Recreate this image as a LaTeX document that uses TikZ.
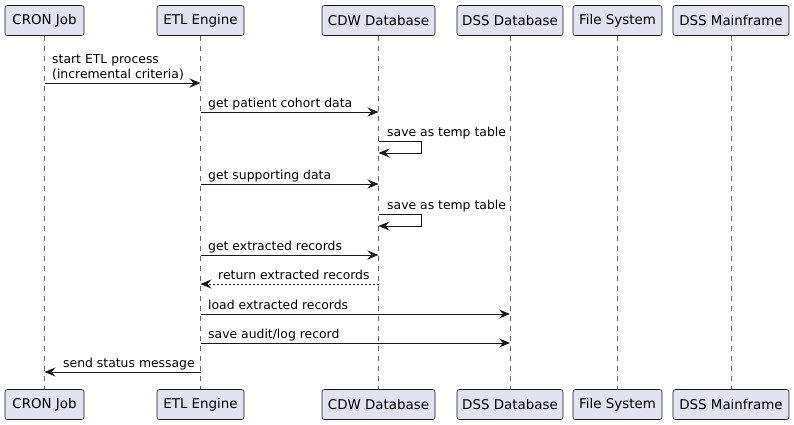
\documentclass[tikz,border=0pt]{standalone}
\usepackage{fontspec}
\setmainfont{DejaVu Sans}
\usetikzlibrary{arrows.meta}
\definecolor{boxline}{RGB}{24,24,24}
\definecolor{boxfill}{RGB}{226,226,240}
\definecolor{lifegray}{RGB}{100,100,100}

\begin{document}
\begin{tikzpicture}[x=1pt,y=-1pt,
    participant/.style={draw=boxline, line width=0.6pt, fill=boxfill, rounded corners=2.5pt, minimum height=30pt, inner sep=0pt, font=\fontsize{13.4}{15}\selectfont},
    lifeline/.style={draw=lifegray, line width=0.5pt, dash pattern=on 5pt off 5pt},
    msg/.style={draw=boxline, line width=0.9pt, -{Stealth[length=11pt,width=9pt,inset=4pt]}},
    reply/.style={msg, dash pattern=on 2pt off 2pt},
    lbl/.style={inner sep=0pt, font=\fontsize{12.4}{15}\selectfont}]
    \useasboundingbox (0,0) rectangle (794,425);
    % participants, top row
    \node[participant, minimum width=79pt] (cronTop) at (44.5,20.5) {CRON Job};
    \node[participant, minimum width=87pt] (etlTop) at (200.5,20.5) {ETL Engine};
    \node[participant, minimum width=113pt] (cdwTop) at (378.5,20.5) {CDW Database};
    \node[participant, minimum width=106pt] (dssTop) at (510,20.5) {DSS Database};
    \node[participant, minimum width=89pt] (fsTop) at (617.5,20.5) {File System};
    \node[participant, minimum width=116pt] (mfTop) at (731,20.5) {DSS Mainframe};
    % participants, bottom row
    \node[participant, minimum width=79pt] (cronBot) at (44.5,404.5) {CRON Job};
    \node[participant, minimum width=87pt] (etlBot) at (200.5,404.5) {ETL Engine};
    \node[participant, minimum width=113pt] (cdwBot) at (378.5,404.5) {CDW Database};
    \node[participant, minimum width=106pt] (dssBot) at (510,404.5) {DSS Database};
    \node[participant, minimum width=89pt] (fsBot) at (617.5,404.5) {File System};
    \node[participant, minimum width=116pt] (mfBot) at (731,404.5) {DSS Mainframe};
    % lifelines
    \draw[lifeline] (cronTop) -- (cronBot);
    \draw[lifeline] (etlTop) -- (etlBot);
    \draw[lifeline] (cdwTop) -- (cdwBot);
    \draw[lifeline] (dssTop) -- (dssBot);
    \draw[lifeline] (fsTop) -- (fsBot);
    \draw[lifeline] (mfTop) -- (mfBot);
    % messages
    \draw[msg] (cronTop |- 0,83) -- (etlTop |- 0,83);
    \node[lbl, anchor=south west, align=left] (startLbl) at (52,80.5) {start ETL process\\(incremental criteria)};
    \draw[msg] (etlTop |- 0,112) -- (cdwTop |- 0,112);
    \node[lbl, anchor=base west] (cohortLbl) at (208,107) {get patient cohort data};
    \draw[msg] (cdwTop |- 0,141) -- ++(43,0) -- ++(0,12) -- (cdwTop |- 0,153);
    \node[lbl, anchor=base west] (tempLblA) at (387,136.5) {save as temp table};
    \draw[msg] (etlTop |- 0,184) -- (cdwTop |- 0,184);
    \node[lbl, anchor=base west] (suppLbl) at (208,179) {get supporting data};
    \draw[msg] (cdwTop |- 0,214) -- ++(43,0) -- ++(0,12) -- (cdwTop |- 0,226);
    \node[lbl, anchor=base west] (tempLblB) at (387,209.5) {save as temp table};
    \draw[msg] (etlTop |- 0,255) -- (cdwTop |- 0,255);
    \node[lbl, anchor=base west] (getLbl) at (208,250) {get extracted records};
    \draw[reply] (cdwTop |- 0,284) -- (etlTop |- 0,284);
    \node[lbl, anchor=base west] (retLbl) at (218,279) {return extracted records};
    \draw[msg] (etlTop |- 0,314) -- (dssTop |- 0,314);
    \node[lbl, anchor=base west] (loadLbl) at (208,309) {load extracted records};
    \draw[msg] (etlTop |- 0,343) -- (dssTop |- 0,343);
    \node[lbl, anchor=base west] (auditLbl) at (208,338) {save audit/log record};
    \draw[msg] (etlTop |- 0,372) -- (cronTop |- 0,372);
    \node[lbl, anchor=base west] (statusLbl) at (63,367) {send status message};
\end{tikzpicture}
\end{document}
